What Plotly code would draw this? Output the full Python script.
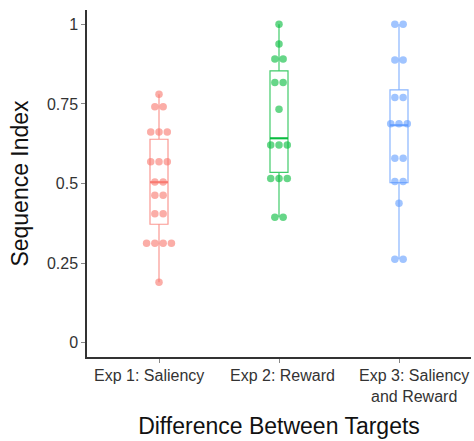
import plotly.graph_objects as go

categories = ["Exp 1: Saliency", "Exp 2: Reward", "Exp 3: Saliency<br>and Reward"]
colors = ["248,118,109", "0,186,56", "97,156,255"]

exp1_vals = [0.780, 0.741, 0.662, 0.568, 0.505, 0.463, 0.405, 0.312, 0.190]
exp1_cnts = [1, 2, 3, 3, 2, 2, 2, 4, 1]
exp2_vals = [1.000, 0.938, 0.891, 0.817, 0.733, 0.621, 0.516, 0.394]
exp2_cnts = [1, 1, 2, 2, 1, 3, 3, 2]
exp3_vals = [1.000, 0.888, 0.770, 0.688, 0.579, 0.506, 0.438, 0.262]
exp3_cnts = [2, 2, 2, 3, 2, 2, 1, 2]

# box statistics
q1 = [0.372, 0.535, 0.503]
med = [0.504, 0.642, 0.683]
q3 = [0.639, 0.854, 0.794]
lo = [0.190, 0.394, 0.262]
hi = [0.780, 1.000, 1.000]

yticks = [0, 0.25, 0.5, 0.75, 1]
yticktext = ["0", "0.25", "0.5", "0.75", "1"]

BOXW = 0.15
DX = 0.069
LABEL_SHIFTS = [-10, 3, 15]

fig = go.Figure()
groups = [(exp1_vals, exp1_cnts), (exp2_vals, exp2_cnts), (exp3_vals, exp3_cnts)]
for i, (vals, cnts) in enumerate(groups):
    c = colors[i]
    fig.add_trace(go.Box(
        x=[i], q1=[q1[i]], median=[med[i]], q3=[q3[i]],
        lowerfence=[lo[i]], upperfence=[hi[i]],
        width=BOXW, whiskerwidth=0,
        fillcolor="rgba(0,0,0,0)",
        line=dict(color=f"rgba({c},0.75)", width=1.2),
        boxpoints=False, showlegend=False, hoverinfo="skip"))
    fig.add_trace(go.Scatter(
        x=[i - BOXW / 2, i + BOXW / 2], y=[med[i], med[i]], mode="lines",
        line=dict(color=f"rgba({c},0.85)", width=2.2),
        showlegend=False, hoverinfo="skip"))
    xs, ys = [], []
    for v, k in zip(vals, cnts):
        for j in range(k):
            xs.append(i + (j - (k - 1) / 2) * DX)
            ys.append(v)
    fig.add_trace(go.Scatter(
        x=xs, y=ys, mode="markers",
        marker=dict(size=7.5, color=f"rgba({c},0.6)", line=dict(width=0)),
        showlegend=False))
    fig.add_annotation(
        x=i, xref="x", y=0, yref="paper", yanchor="top", xanchor="center",
        text=categories[i], showarrow=False, xshift=LABEL_SHIFTS[i], yshift=-8,
        align="center", font=dict(size=16, color="#333333"))

fig.update_layout(
    width=474, height=441,
    margin=dict(l=87, r=3, t=10, b=84),
    paper_bgcolor="white", plot_bgcolor="white",
    font=dict(family="Liberation Sans, Arial, sans-serif", color="#333333"),
)
fig.update_xaxes(
    range=[-0.6, 2.6], tickvals=[0, 1, 2], showticklabels=False,
    showline=True, linecolor="#333333", linewidth=1.5,
    ticks="outside", ticklen=4, tickcolor="#888888", tickwidth=1,
    showgrid=False, zeroline=False, automargin=False,
    title=dict(text="Difference Between Targets", font=dict(size=23, color="#111111"), standoff=56),
)
fig.update_yaxes(
    range=[-0.045, 1.045], tickvals=yticks, ticktext=yticktext,
    showline=True, linecolor="#333333", linewidth=1.5,
    ticks="outside", ticklen=4, tickcolor="#888888", tickwidth=1,
    showgrid=False, zeroline=False, automargin=False,
    tickfont=dict(size=16, color="#333333"),
    title=dict(text="Sequence Index", font=dict(size=23, color="#111111"), standoff=12),
)

fig.write_html("out.html", config={"displayModeBar": False},
               post_script="document.body.style.margin='0';")
